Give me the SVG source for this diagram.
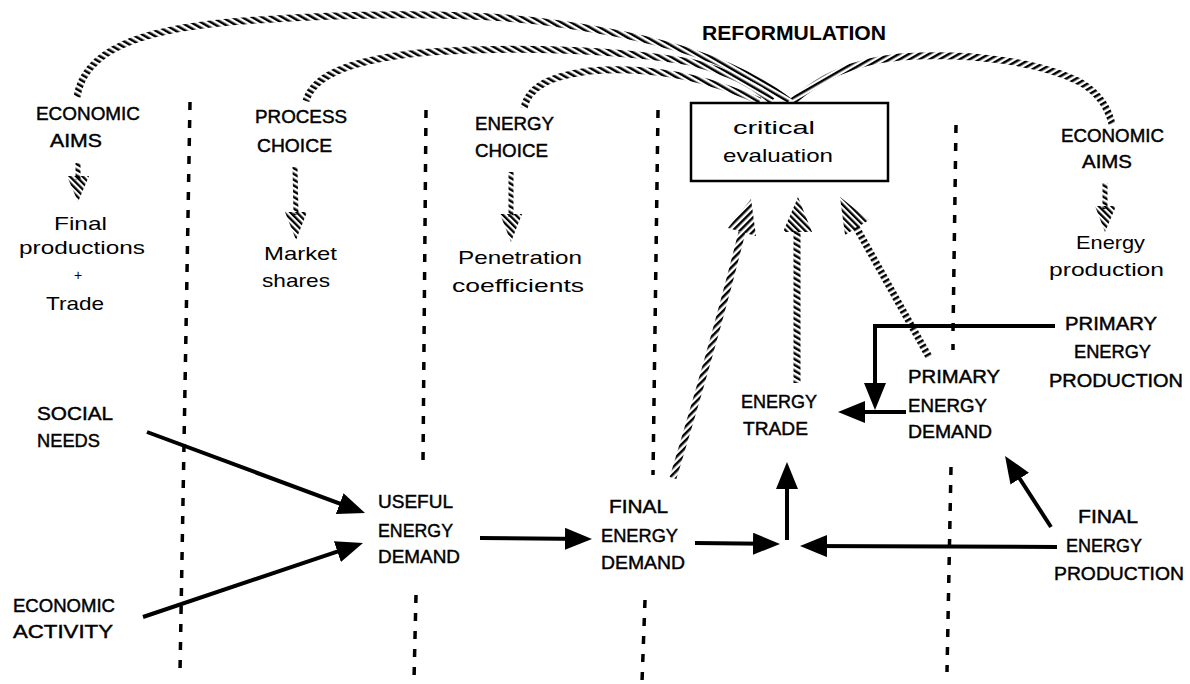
<svg xmlns="http://www.w3.org/2000/svg" width="1190" height="684" viewBox="0 0 1190 684">
<style>
text { font-family: "Liberation Sans", Arial, sans-serif; font-size: 19px; fill: #000; }
.cap { stroke: #000; stroke-width: 0.45; }
.title { font-size: 20px; font-weight: bold; }
.plus { font-size: 14px; }
.sep { stroke: #000; stroke-width: 3.5; stroke-dasharray: 8 10; fill: none; }
.ropeL { stroke: url(#ropeL); stroke-width: 7; fill: none; }
.ropeR { stroke: url(#ropeR); stroke-width: 7; fill: none; }
.ropeS { stroke: url(#ropeL); stroke-width: 5; fill: none; }
.ropeU { stroke: url(#ropeU); stroke-width: 7; fill: none; }
.solid { stroke: #000; stroke-width: 4; fill: none; }
.hhead { fill: url(#hatch); stroke: none; }
.hheadU { fill: url(#ropeU); stroke: none; }
.box { fill: #fff; stroke: #000; stroke-width: 2.5; }
</style>
<defs>
  <pattern id="hatch" width="4.5" height="4.5" patternUnits="userSpaceOnUse" patternTransform="rotate(-45)">
    <rect width="2.3" height="4.5" fill="#000"/>
  </pattern>
  <pattern id="ropeL" width="5" height="5" patternUnits="userSpaceOnUse" patternTransform="rotate(-60)">
    <rect width="2.5" height="5" fill="#000"/>
  </pattern>
  <pattern id="ropeR" width="5" height="5" patternUnits="userSpaceOnUse" patternTransform="rotate(60)">
    <rect width="2.5" height="5" fill="#000"/>
  </pattern>
  <pattern id="ropeU" width="5" height="5" patternUnits="userSpaceOnUse" patternTransform="rotate(45)">
    <rect width="2.5" height="5" fill="#000"/>
  </pattern>
  <marker id="ah" markerUnits="userSpaceOnUse" markerWidth="28" markerHeight="22" refX="21" refY="11" orient="auto">
    <path d="M0,0 L27,11 L0,22 Z" fill="#000"/>
  </marker>
</defs>
<rect width="1190" height="684" fill="#fff"/>

<g id="separators">
  <path class="sep" d="M190,102 L180,672"/>
  <path class="sep" d="M426,110 L423,463 M416,595 L414,680"/>
  <path class="sep" d="M658,110 L653,475 M645,600 L642,682"/>
  <path class="sep" d="M956,125 L953,333 M953,344 L953,350 M951,467 L947,672"/>
</g>

<g id="connectors">
  <!-- reformulation arcs -->
  <path class="ropeL" d="M77,97 C84,50 140,30 230,22 C330,14 470,10 560,24 C660,38 735,60 789,101"/>
  <path class="ropeL" d="M306,101 C314,72 360,58 430,52 C520,46 620,50 690,62 C730,72 752,84 772,101"/>
  <path class="ropeL" d="M524,108 C528,88 548,76 590,71 C640,66 690,76 720,86 C738,92 750,97 760,101"/>
  <path class="ropeR" d="M793,101 C820,78 850,62 900,57 C970,52 1040,62 1080,82 C1100,94 1108,108 1112,124"/>
  <!-- small hatched arrows -->
  <path class="ropeS" d="M78,163 L78,180"/>
  <polygon class="hhead" points="67,176 89,176 78,202"/>
  <path class="ropeS" d="M295,167 L296,215"/>
  <polygon class="hhead" points="285,212 307,212 296,240"/>
  <path class="ropeS" d="M511,172 L511,217"/>
  <polygon class="hhead" points="500,214 522,214 511,242"/>
  <path class="ropeS" d="M1105,183 L1105,209"/>
  <polygon class="hhead" points="1095,206 1116,206 1105,232"/>
  <!-- hatched arrows to critical evaluation -->
  <path class="ropeU" d="M673,478 Q715,340 742,232"/>
  <polygon class="hheadU" points="728,228 756,236 751,199"/>
  <path class="ropeL" d="M797,383 L797,231"/>
  <polygon class="hhead" points="783,232 812,232 798,197"/>
  <path class="ropeR" d="M929,357 L856,227"/>
  <polygon class="hhead" points="869,220 845,235 840,197"/>
  <!-- solid flows -->
  <path class="solid" marker-end="url(#ah)" d="M147,432 L359.4,510.9"/>
  <path class="solid" marker-end="url(#ah)" d="M143,617 L357.3,544.9"/>
  <path class="solid" marker-end="url(#ah)" d="M480,538 L586,539"/>
  <path class="solid" marker-end="url(#ah)" d="M695,543 L774,544"/>
  <path class="solid" marker-end="url(#ah)" d="M787,540 L787,468"/>
  <path class="solid" marker-end="url(#ah)" d="M1057,547 L806,546"/>
  <path class="solid" marker-end="url(#ah)" d="M1051,527 L1008.3,461"/>
  <path class="solid" marker-end="url(#ah)" d="M1055,326 L875,326 L875,404"/>
  <path class="solid" marker-end="url(#ah)" d="M906,412 L844,412"/>
</g>

<g id="reformulation"><text class="title" x="702" y="40" textLength="184" lengthAdjust="spacingAndGlyphs">REFORMULATION</text></g>
<g id="critical-evaluation">
  <rect class="box" x="691" y="103" width="197" height="78"/>
  <text x="733" y="134" textLength="82" lengthAdjust="spacingAndGlyphs">critical</text>
  <text x="723" y="162" textLength="110" lengthAdjust="spacingAndGlyphs">evaluation</text>
</g>
<g id="economic-aims-left" class="cap">
  <text x="36" y="120" textLength="104" lengthAdjust="spacingAndGlyphs">ECONOMIC</text>
  <text x="50" y="147" textLength="52" lengthAdjust="spacingAndGlyphs">AIMS</text>
</g>
<g id="final-productions">
  <text x="54" y="230" textLength="53" lengthAdjust="spacingAndGlyphs">Final</text>
  <text x="19" y="254" textLength="126" lengthAdjust="spacingAndGlyphs">productions</text>
  <text class="plus" x="78" y="280" text-anchor="middle">+</text>
  <text x="46" y="310" textLength="58" lengthAdjust="spacingAndGlyphs">Trade</text>
</g>
<g id="process-choice" class="cap">
  <text x="255" y="123" textLength="92" lengthAdjust="spacingAndGlyphs">PROCESS</text>
  <text x="257" y="152" textLength="75" lengthAdjust="spacingAndGlyphs">CHOICE</text>
</g>
<g id="market-shares">
  <text x="264" y="260" textLength="73" lengthAdjust="spacingAndGlyphs">Market</text>
  <text x="262" y="287" textLength="68" lengthAdjust="spacingAndGlyphs">shares</text>
</g>
<g id="energy-choice" class="cap">
  <text x="475" y="130" textLength="79" lengthAdjust="spacingAndGlyphs">ENERGY</text>
  <text x="475" y="157" textLength="73" lengthAdjust="spacingAndGlyphs">CHOICE</text>
</g>
<g id="penetration-coefficients">
  <text x="458" y="264" textLength="124" lengthAdjust="spacingAndGlyphs">Penetration</text>
  <text x="452" y="292" textLength="132" lengthAdjust="spacingAndGlyphs">coefficients</text>
</g>
<g id="economic-aims-right" class="cap">
  <text x="1061" y="142" textLength="103" lengthAdjust="spacingAndGlyphs">ECONOMIC</text>
  <text x="1082" y="168" textLength="50" lengthAdjust="spacingAndGlyphs">AIMS</text>
</g>
<g id="energy-production">
  <text x="1076" y="249" textLength="69" lengthAdjust="spacingAndGlyphs">Energy</text>
  <text x="1049" y="276" textLength="115" lengthAdjust="spacingAndGlyphs">production</text>
</g>
<g id="social-needs" class="cap">
  <text x="37" y="420" textLength="76" lengthAdjust="spacingAndGlyphs">SOCIAL</text>
  <text x="37" y="447" textLength="63" lengthAdjust="spacingAndGlyphs">NEEDS</text>
</g>
<g id="economic-activity" class="cap">
  <text x="13" y="612" textLength="102" lengthAdjust="spacingAndGlyphs">ECONOMIC</text>
  <text x="13" y="638" textLength="100" lengthAdjust="spacingAndGlyphs">ACTIVITY</text>
</g>
<g id="useful-energy-demand" class="cap">
  <text x="378" y="508" textLength="75" lengthAdjust="spacingAndGlyphs">USEFUL</text>
  <text x="378" y="537" textLength="75" lengthAdjust="spacingAndGlyphs">ENERGY</text>
  <text x="378" y="563" textLength="82" lengthAdjust="spacingAndGlyphs">DEMAND</text>
</g>
<g id="final-energy-demand" class="cap">
  <text x="609" y="513" textLength="59" lengthAdjust="spacingAndGlyphs">FINAL</text>
  <text x="601" y="542" textLength="77" lengthAdjust="spacingAndGlyphs">ENERGY</text>
  <text x="601" y="569" textLength="84" lengthAdjust="spacingAndGlyphs">DEMAND</text>
</g>
<g id="energy-trade" class="cap">
  <text x="741" y="408" textLength="76" lengthAdjust="spacingAndGlyphs">ENERGY</text>
  <text x="743" y="435" textLength="65" lengthAdjust="spacingAndGlyphs">TRADE</text>
</g>
<g id="primary-energy-demand" class="cap">
  <text x="908" y="383" textLength="92" lengthAdjust="spacingAndGlyphs">PRIMARY</text>
  <text x="908" y="412" textLength="79" lengthAdjust="spacingAndGlyphs">ENERGY</text>
  <text x="908" y="438" textLength="84" lengthAdjust="spacingAndGlyphs">DEMAND</text>
</g>
<g id="primary-energy-production" class="cap">
  <text x="1065" y="330" textLength="92" lengthAdjust="spacingAndGlyphs">PRIMARY</text>
  <text x="1074" y="358" textLength="77" lengthAdjust="spacingAndGlyphs">ENERGY</text>
  <text x="1049" y="387" textLength="134" lengthAdjust="spacingAndGlyphs">PRODUCTION</text>
</g>
<g id="final-energy-production" class="cap">
  <text x="1078" y="523" textLength="60" lengthAdjust="spacingAndGlyphs">FINAL</text>
  <text x="1066" y="552" textLength="76" lengthAdjust="spacingAndGlyphs">ENERGY</text>
  <text x="1054" y="580" textLength="130" lengthAdjust="spacingAndGlyphs">PRODUCTION</text>
</g>
</svg>
